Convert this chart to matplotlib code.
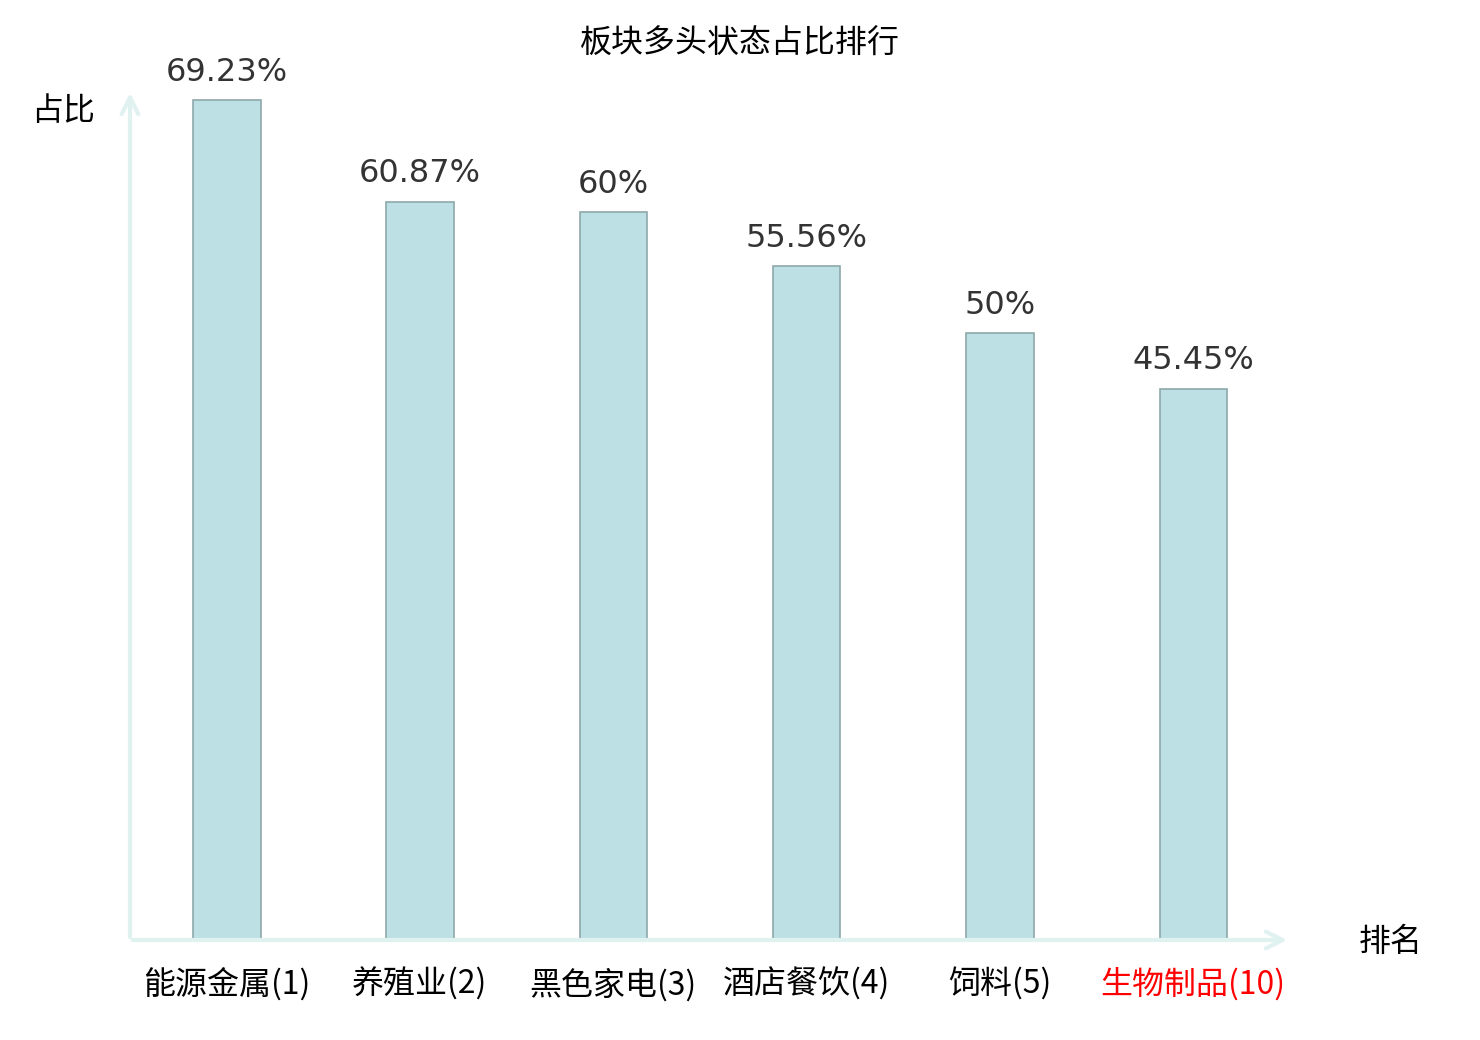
import matplotlib
matplotlib.use('Agg')
import matplotlib.pyplot as plt

plt.rcParams['font.family'] = ['Noto Sans CJK SC', 'DejaVu Sans']

categories = ['能源金属(1)', '养殖业(2)', '黑色家电(3)', '酒店餐饮(4)', '饲料(5)', '生物制品(10)']
values = [69.23, 60.87, 60, 55.56, 50, 45.45]
value_labels = ['69.23%', '60.87%', '60%', '55.56%', '50%', '45.45%']
label_colors = ['black', 'black', 'black', 'black', 'black', 'red']

fig = plt.figure(figsize=(14.8, 10.4), dpi=100)
# axes box in pixels: left 130, right 1290, top 90, bottom 940
ax = fig.add_axes([130 / 1480, 100 / 1040, 1160 / 1480, 850 / 1040])

x = list(range(len(categories)))
ax.bar(x, values, width=0.35, color='#bce0e3', edgecolor='#8fa8aa', linewidth=1.2, zorder=3)

for i, v in enumerate(values):
    ax.annotate(value_labels[i], (i, v), xytext=(0, 9), textcoords='offset points',
                ha='center', va='bottom', fontsize=23, color='#333333',
                family='DejaVu Sans')

ax.set_xlim(-0.5, 5.5)
ax.set_ylim(0, 70.07)
for s in ax.spines.values():
    s.set_visible(False)
ax.set_yticks([])
ax.set_xticks(x)
ax.set_xticklabels(categories, fontsize=23)
ax.tick_params(axis='x', length=0, pad=20)
for lbl, c in zip(ax.get_xticklabels(), label_colors):
    lbl.set_color(c)

# axis arrows
axis_color = '#dff2f0'
ax.annotate('', xy=(1.0, 0), xytext=(0, 0), xycoords='axes fraction',
            arrowprops=dict(arrowstyle='->', color=axis_color, lw=3, mutation_scale=30),
            annotation_clip=False)
ax.annotate('', xy=(0, 1.0), xytext=(0, 0), xycoords='axes fraction',
            arrowprops=dict(arrowstyle='->', color=axis_color, lw=3, mutation_scale=30),
            annotation_clip=False)

fig.text(0.5, 1 - 44 / 1040, '板块多头状态占比排行', ha='center', va='center', fontsize=23)
fig.text(63 / 1480, 1 - 111 / 1040, '占比', ha='center', va='center', fontsize=23)
fig.text(1391 / 1480, 1 - 942 / 1040, '排名', ha='center', va='center', fontsize=23)

fig.savefig('out.png', dpi=100)
